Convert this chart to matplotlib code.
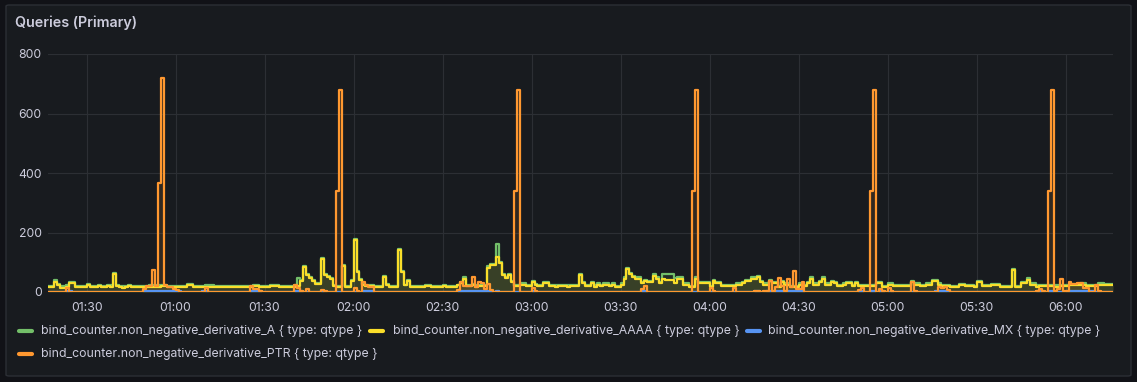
import matplotlib
matplotlib.use("Agg")
import matplotlib.pyplot as plt
import numpy as np
from matplotlib.patches import FancyBboxPatch
from matplotlib.lines import Line2D

W, H, DPI = 1137, 382, 100
BG = "#111217"
PANEL = "#181b1f"
BORDER = "#2c2f35"
TEXT = "#ccccdc"
GRID = "#2c2f34"

plt.rcParams["font.family"] = ["Inter", "DejaVu Sans"]

# ── data: one value per minute, from the first sample ────────────────────────
A = [
    21, 21, 39, 26, 19, 19, 22, 33, 33, 21,
    20, 21, 21, 26, 21, 20, 21, 23, 20, 21,
    23, 22, 63, 25, 20, 19, 20, 23, 21, 21,
    21, 21, 21, 21, 22, 22, 22, 22, 23, 23,
    21, 20, 20, 20, 20, 20, 21, 26, 26, 21,
    21, 21, 21, 22, 22, 22, 20, 20, 20, 20,
    20, 20, 21, 21, 21, 21, 21, 21, 21, 23,
    23, 21, 21, 21, 21, 23, 23, 24, 21, 21,
    21, 21, 21, 22, 46, 41, 88, 60, 49, 41,
    31, 31, 114, 60, 55, 46, 23, 21, 21, 91,
    20, 20, 41, 178, 70, 43, 28, 23, 23, 23,
    20, 20, 20, 53, 28, 20, 20, 20, 144, 71,
    25, 41, 20, 20, 20, 20, 20, 23, 23, 19,
    19, 19, 19, 22, 19, 19, 19, 19, 25, 34,
    49, 24, 24, 26, 22, 24, 24, 24, 86, 95,
    95, 163, 101, 61, 50, 61, 38, 24, 24, 29,
    29, 24, 24, 38, 26, 24, 24, 34, 34, 24,
    24, 22, 24, 24, 24, 22, 24, 24, 24, 61,
    34, 24, 24, 34, 22, 29, 24, 29, 29, 24,
    29, 21, 21, 29, 49, 80, 65, 54, 49, 49,
    35, 42, 38, 38, 59, 49, 34, 62, 62, 62,
    62, 47, 49, 49, 29, 29, 21, 21, 49, 34,
    34, 34, 34, 21, 42, 34, 34, 24, 24, 24,
    24, 24, 29, 29, 34, 42, 42, 49, 49, 54,
    38, 29, 29, 42, 34, 34, 21, 38, 29, 29,
    21, 21, 21, 29, 24, 24, 34, 49, 29, 29,
    38, 49, 29, 29, 38, 34, 24, 24, 29, 34,
    34, 24, 34, 24, 24, 24, 24, 24, 24, 34,
    34, 21, 21, 29, 29, 24, 24, 24, 24, 24,
    24, 38, 29, 29, 24, 24, 29, 29, 42, 42,
    29, 24, 24, 24, 21, 21, 21, 26, 26, 24,
    24, 24, 21, 38, 38, 24, 24, 24, 28, 28,
    28, 21, 21, 21, 21, 78, 21, 21, 35, 35,
    46, 29, 29, 22, 24, 24, 24, 24, 24, 22,
    22, 24, 24, 24, 28, 28, 28, 28, 29, 29,
    24, 24, 24, 24, 29, 29, 26, 26, 26,
]

AAAA = [
    17, 17, 35, 22, 15, 15, 18, 29, 29, 17,
    16, 17, 17, 22, 17, 16, 17, 19, 16, 17,
    19, 18, 59, 21, 16, 15, 16, 19, 17, 17,
    17, 17, 17, 17, 18, 18, 18, 18, 19, 19,
    17, 16, 16, 16, 16, 16, 17, 22, 22, 17,
    17, 17, 17, 18, 18, 18, 16, 16, 16, 16,
    16, 16, 17, 17, 17, 17, 17, 17, 17, 19,
    19, 17, 17, 17, 17, 19, 19, 20, 17, 17,
    17, 17, 17, 18, 20, 38, 85, 57, 46, 38,
    28, 28, 111, 57, 52, 43, 20, 18, 18, 88,
    17, 17, 38, 175, 67, 40, 25, 20, 20, 20,
    17, 17, 17, 50, 25, 17, 17, 17, 141, 68,
    22, 38, 17, 17, 17, 17, 17, 20, 20, 16,
    16, 16, 16, 19, 16, 16, 16, 16, 22, 30,
    45, 20, 20, 22, 18, 20, 20, 20, 82, 91,
    91, 119, 97, 57, 46, 57, 34, 20, 20, 25,
    25, 20, 20, 34, 22, 20, 20, 30, 30, 20,
    20, 18, 20, 20, 20, 18, 20, 20, 20, 57,
    30, 20, 20, 30, 18, 25, 20, 25, 25, 20,
    25, 17, 17, 25, 45, 76, 61, 50, 45, 45,
    31, 38, 34, 34, 55, 45, 30, 45, 40, 40,
    40, 31, 45, 45, 25, 25, 17, 17, 45, 30,
    30, 30, 30, 17, 38, 30, 30, 20, 20, 20,
    20, 20, 25, 25, 30, 38, 38, 45, 45, 50,
    34, 25, 25, 38, 30, 30, 17, 34, 25, 25,
    17, 17, 17, 25, 20, 20, 30, 45, 25, 25,
    34, 45, 25, 25, 34, 30, 20, 20, 25, 30,
    30, 20, 30, 20, 20, 20, 20, 20, 20, 30,
    30, 17, 17, 25, 25, 20, 20, 20, 20, 20,
    20, 34, 25, 25, 20, 20, 25, 25, 38, 38,
    25, 20, 20, 20, 17, 17, 17, 22, 22, 20,
    20, 20, 17, 34, 34, 20, 20, 20, 24, 24,
    24, 17, 17, 17, 17, 74, 17, 17, 31, 31,
    42, 25, 25, 18, 20, 20, 20, 20, 20, 18,
    18, 20, 20, 20, 24, 24, 24, 24, 25, 25,
    20, 20, 20, 20, 25, 25, 22, 22, 22,
]

MX = [
    0, 0, 0, 0, 0, 0, 3, 3, 0, 0,
    0, 0, 0, 0, 0, 0, 0, 0, 0, 0,
    0, 0, 0, 0, 0, 0, 0, 0, 0, 0,
    0, 0, 3, 3, 3, 3, 3, 3, 3, 3,
    3, 3, 3, 3, 3, 0, 0, 0, 0, 0,
    0, 0, 3, 3, 0, 0, 0, 0, 0, 0,
    0, 0, 0, 0, 0, 0, 0, 0, 3, 3,
    3, 3, 0, 0, 0, 0, 0, 0, 0, 0,
    0, 0, 0, 3, 3, 3, 0, 0, 0, 0,
    0, 0, 3, 0, 0, 0, 0, 0, 0, 0,
    0, 0, 0, 0, 0, 0, 3, 3, 3, 3,
    0, 0, 0, 0, 0, 0, 0, 0, 0, 0,
    0, 0, 0, 0, 0, 0, 0, 0, 0, 0,
    0, 0, 0, 0, 0, 0, 0, 0, 3, 3,
    3, 3, 3, 3, 3, 3, 3, 3, 3, 3,
    0, 3, 0, 0, 0, 0, 0, 0, 0, 0,
    0, 0, 0, 3, 0, 0, 0, 0, 0, 0,
    0, 0, 0, 0, 0, 0, 0, 0, 0, 0,
    0, 0, 0, 0, 0, 0, 0, 0, 0, 0,
    0, 0, 0, 0, 0, 0, 0, 0, 0, 0,
    3, 3, 0, 0, 0, 0, 0, 0, 0, 0,
    0, 0, 0, 0, 0, 0, 0, 0, 0, 0,
    0, 0, 0, 0, 0, 0, 0, 0, 0, 0,
    0, 0, 0, 0, 0, 0, 0, 0, 3, 3,
    0, 0, 3, 3, 3, 3, 3, 3, 3, 3,
    3, 3, 3, 3, 3, 0, 0, 0, 0, 0,
    0, 0, 0, 0, 0, 0, 0, 0, 0, 0,
    0, 0, 0, 3, 3, 0, 0, 3, 3, 0,
    3, 3, 0, 0, 3, 0, 0, 0, 0, 0,
    0, 0, 0, 0, 0, 0, 0, 0, 0, 3,
    3, 3, 3, 0, 0, 0, 0, 0, 0, 0,
    0, 0, 0, 0, 0, 0, 0, 0, 0, 0,
    0, 0, 0, 0, 0, 0, 0, 0, 0, 0,
    0, 0, 0, 3, 3, 0, 0, 3, 3, 0,
    0, 0, 0, 3, 3, 3, 3, 3, 3, 3,
    3, 3, 3, 0, 0, 0, 0, 0, 0,
]

PTR = [
    0, 0, 0, 0, 0, 0, 15, 0, 0, 0,
    0, 0, 0, 0, 0, 0, 0, 0, 0, 0,
    0, 0, 0, 0, 0, 0, 0, 0, 0, 0,
    0, 0, 10, 20, 20, 73, 20, 365, 720, 25,
    17, 17, 10, 8, 0, 0, 0, 0, 0, 0,
    0, 0, 0, 12, 0, 0, 0, 0, 0, 0,
    0, 0, 0, 0, 0, 0, 0, 0, 20, 10,
    10, 5, 0, 0, 0, 0, 0, 0, 0, 0,
    0, 0, 0, 25, 12, 5, 0, 11, 0, 0,
    0, 0, 8, 4, 0, 0, 0, 340, 680, 0,
    0, 0, 0, 15, 5, 0, 32, 22, 17, 17,
    0, 0, 0, 0, 0, 0, 0, 0, 0, 0,
    0, 0, 0, 0, 0, 0, 0, 0, 0, 0,
    0, 0, 0, 0, 0, 0, 0, 0, 8, 35,
    20, 20, 20, 49, 17, 35, 30, 10, 27, 8,
    0, 0, 0, 0, 0, 0, 0, 340, 680, 0,
    0, 0, 0, 14, 5, 0, 0, 0, 0, 0,
    0, 0, 0, 0, 0, 0, 0, 0, 0, 0,
    0, 0, 0, 0, 0, 0, 0, 0, 0, 0,
    0, 0, 0, 0, 0, 0, 0, 0, 0, 0,
    10, 20, 0, 0, 0, 0, 0, 0, 0, 0,
    0, 0, 0, 0, 0, 0, 0, 340, 680, 0,
    0, 0, 0, 13, 5, 0, 0, 0, 0, 0,
    0, 13, 0, 0, 0, 0, 0, 0, 5, 5,
    0, 5, 5, 38, 5, 17, 48, 20, 5, 44,
    17, 70, 10, 10, 32, 0, 0, 0, 0, 0,
    0, 0, 0, 0, 0, 0, 0, 0, 0, 0,
    0, 0, 0, 8, 13, 0, 0, 340, 680, 0,
    10, 5, 0, 13, 5, 0, 0, 0, 0, 0,
    0, 35, 5, 0, 0, 0, 0, 0, 0, 0,
    18, 12, 17, 8, 0, 0, 0, 0, 0, 0,
    0, 0, 0, 0, 0, 0, 0, 0, 0, 0,
    0, 0, 0, 0, 0, 0, 0, 0, 0, 0,
    0, 0, 0, 5, 10, 5, 0, 340, 680, 5,
    10, 44, 3, 3, 33, 26, 26, 30, 30, 15,
    15, 0, 0, 25, 5, 0, 0, 0, 0,
]

SERIES = [A, AAAA, MX, PTR]
NAMES = [
    "bind_counter.non_negative_derivative_A { type: qtype }",
    "bind_counter.non_negative_derivative_AAAA { type: qtype }",
    "bind_counter.non_negative_derivative_MX { type: qtype }",
    "bind_counter.non_negative_derivative_PTR { type: qtype }",
]
COLORS = ["#73bf69", "#fade2a", "#5794f2", "#ff9830"]

FIRST_TICK_MIN = 13   # first labelled tick, minutes after first sample
TICK_LABELS = ["01:30", "01:00", "01:30", "02:00", "02:30", "03:00",
               "03:30", "04:00", "04:30", "05:00", "05:30", "06:00"]
Y_TICKS = [0, 200, 400, 600, 800]

# ── figure + panel ───────────────────────────────────────────────────────────
fig = plt.figure(figsize=(W / DPI, H / DPI), dpi=DPI, facecolor=BG)
panel = FancyBboxPatch((6 / W, 1 - 376 / H), 1125 / W, 371 / H,
                       boxstyle="round,pad=0,rounding_size=0.003",
                       transform=fig.transFigure, facecolor=PANEL,
                       edgecolor=BORDER, linewidth=1, zorder=-5)
fig.patches.append(panel)

fig.text(15 / W, 1 - 22.5 / H, "Queries (Primary)", fontsize=10.3,
         fontweight="semibold", color=TEXT, va="center", ha="left")

ax = fig.add_axes([48 / W, 1 - 292 / H, 1065 / W, 238 / H])
ax.set_facecolor("none")
ax.set_zorder(2)

n = len(AAAA)
edges = np.arange(n + 1)
for vals, color in zip(SERIES, COLORS):
    y = np.append(vals, vals[-1])
    ax.fill_between(edges, y, step="post", color=color, alpha=0.11, lw=0)
    ax.step(edges, y, where="post", color=color, lw=1.6)

ax.set_xlim(0, n)
ax.set_ylim(0, 800)
ax.set_yticks(Y_TICKS)
ax.set_xticks(np.arange(FIRST_TICK_MIN, n, 30))
ax.set_xticklabels(TICK_LABELS)
ax.tick_params(length=0, colors=TEXT, labelsize=8.8)
ax.tick_params(axis="y", pad=4.5)
ax.tick_params(axis="x", pad=7.5)
ax.grid(color=GRID, lw=0.8)
ax.set_axisbelow(True)
for s in ax.spines.values():
    s.set_visible(False)

# ── legend (grafana flow layout) ─────────────────────────────────────────────
legend_slots = [(19, 41, 331), (370, 393, 331), (747, 768, 331), (19, 41, 354)]
for (mx, tx, ly), name, color in zip(legend_slots, NAMES, COLORS):
    fig.add_artist(Line2D([mx / W, (mx + 13) / W], [1 - ly / H, 1 - ly / H],
                          transform=fig.transFigure, color=color, lw=3,
                          solid_capstyle="round"))
    fig.text(tx / W, 1 - ly / H, name, fontsize=8.85, color=TEXT,
             va="center", ha="left")

fig.savefig("out.png", dpi=DPI, facecolor=BG)
